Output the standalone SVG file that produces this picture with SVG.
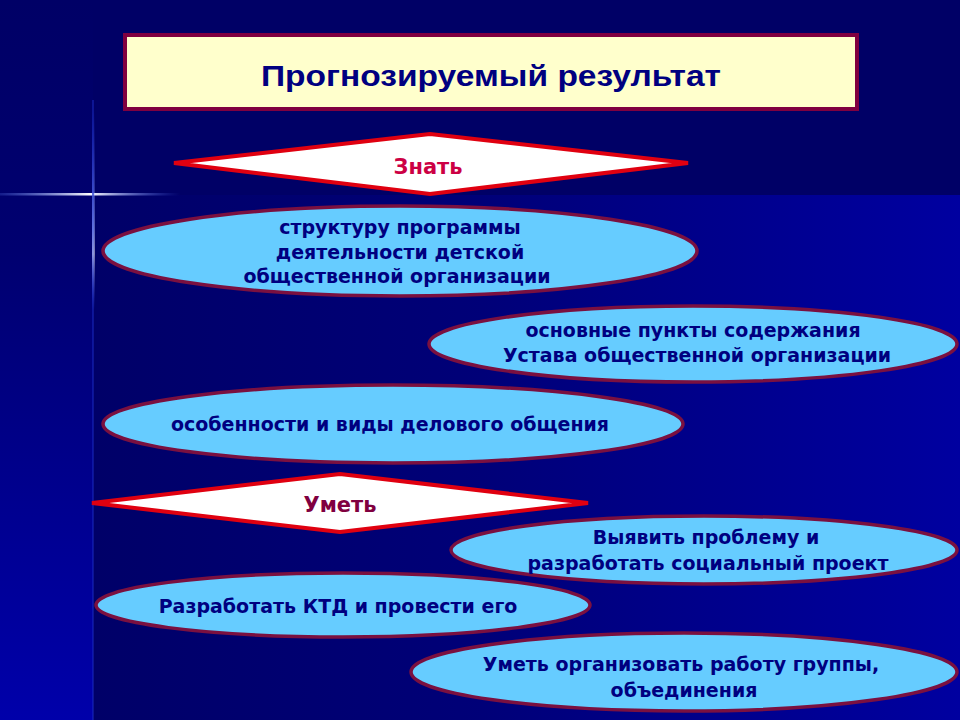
<svg xmlns="http://www.w3.org/2000/svg" width="960" height="720" viewBox="0 0 960 720">
<defs>
<linearGradient id="leftStrip" x1="0" y1="0" x2="0" y2="1">
<stop offset="0" stop-color="#000066"/>
<stop offset="0.35" stop-color="#000070"/>
<stop offset="1" stop-color="#0000AA"/>
</linearGradient>
<linearGradient id="lowerRight" x1="0" y1="0" x2="1" y2="0">
<stop offset="0" stop-color="#000068"/>
<stop offset="0.45" stop-color="#000078"/>
<stop offset="1" stop-color="#0000A0"/>
</linearGradient>
<linearGradient id="hLine" x1="0" y1="0" x2="1" y2="0">
<stop offset="0" stop-color="#6688FF" stop-opacity="0.2"/>
<stop offset="0.5" stop-color="#FFFFFF"/>
<stop offset="1" stop-color="#4466FF" stop-opacity="0"/>
</linearGradient>
<linearGradient id="vLine" x1="0" y1="0" x2="0" y2="1">
<stop offset="0" stop-color="#3355FF" stop-opacity="0"/>
<stop offset="0.6" stop-color="#AABBFF"/>
<stop offset="0.72" stop-color="#FFFFFF"/>
<stop offset="1" stop-color="#3355FF" stop-opacity="0"/>
</linearGradient>
</defs>
<style>
.oval{fill:#66CCFF;stroke:#7A1040;stroke-width:3.5}
.dia{fill:#FFFFFF;stroke:#E00010;stroke-width:4;stroke-linejoin:miter}
.t{font-family:"DejaVu Sans","Liberation Sans",sans-serif;font-weight:bold;font-size:19px;fill:#000080;text-anchor:middle}
.h{font-family:"DejaVu Sans","Liberation Sans",sans-serif;font-weight:bold;font-size:21px;text-anchor:middle}
</style>
<rect x="0" y="0" width="960" height="720" fill="#000066"/>
<rect x="0" y="0" width="93" height="720" fill="url(#leftStrip)"/>
<rect x="93" y="195" width="867" height="525" fill="url(#lowerRight)"/>
<rect x="0" y="193" width="180" height="2.5" fill="url(#hLine)"/>
<rect x="92" y="110" width="2.5" height="200" fill="url(#vLine)"/>
<rect x="92" y="100" width="2" height="620" fill="#1A2AC0" opacity="0.5"/>

<g id="title">
<rect x="125" y="35" width="732" height="74" fill="#FFFFCC" stroke="#800040" stroke-width="4"/>
<text x="491" y="86" font-family="Liberation Sans, sans-serif" font-weight="bold" font-size="30" fill="#000080" text-anchor="middle" textLength="460" lengthAdjust="spacingAndGlyphs">Прогнозируемый результат</text>
</g>

<g id="oval1">
<ellipse class="oval" cx="400" cy="251" rx="297" ry="45"/>
<text class="t" x="400" y="234">структуру программы</text>
<text class="t" x="400" y="259">деятельности детской</text>
<text class="t" x="397" y="283">общественной организации</text>
</g>

<g id="znat">
<polygon class="dia" points="174,163 430,134 688,163 430,194"/>
<text class="h" x="428" y="174" fill="#CC0044">Знать</text>
</g>

<g id="oval2">
<ellipse class="oval" cx="693" cy="344" rx="264" ry="38"/>
<text class="t" x="693" y="337">основные пункты содержания</text>
<text class="t" x="697" y="362">Устава общественной организации</text>
</g>

<g id="oval3">
<ellipse class="oval" cx="393" cy="424" rx="290" ry="39"/>
<text class="t" x="390" y="431">особенности и виды делового общения</text>
</g>

<g id="oval4">
<ellipse class="oval" cx="704" cy="550" rx="253" ry="34"/>
<text class="t" x="706" y="544">Выявить проблему и</text>
<text class="t" x="708" y="570">разработать социальный проект</text>
</g>

<g id="umet">
<polygon class="dia" points="92,503 340,474 588,503 340,532"/>
<text class="h" x="340" y="512" fill="#800040">Уметь</text>
</g>

<g id="oval5">
<ellipse class="oval" cx="343" cy="605" rx="247" ry="32"/>
<text class="t" x="338" y="613">Разработать КТД и провести его</text>
</g>

<g id="oval6">
<ellipse class="oval" cx="684" cy="672" rx="273" ry="39"/>
<text class="t" x="681" y="671">Уметь организовать работу группы,</text>
<text class="t" x="684" y="697">объединения</text>
</g>
<g id="connectors"/>
</svg>
